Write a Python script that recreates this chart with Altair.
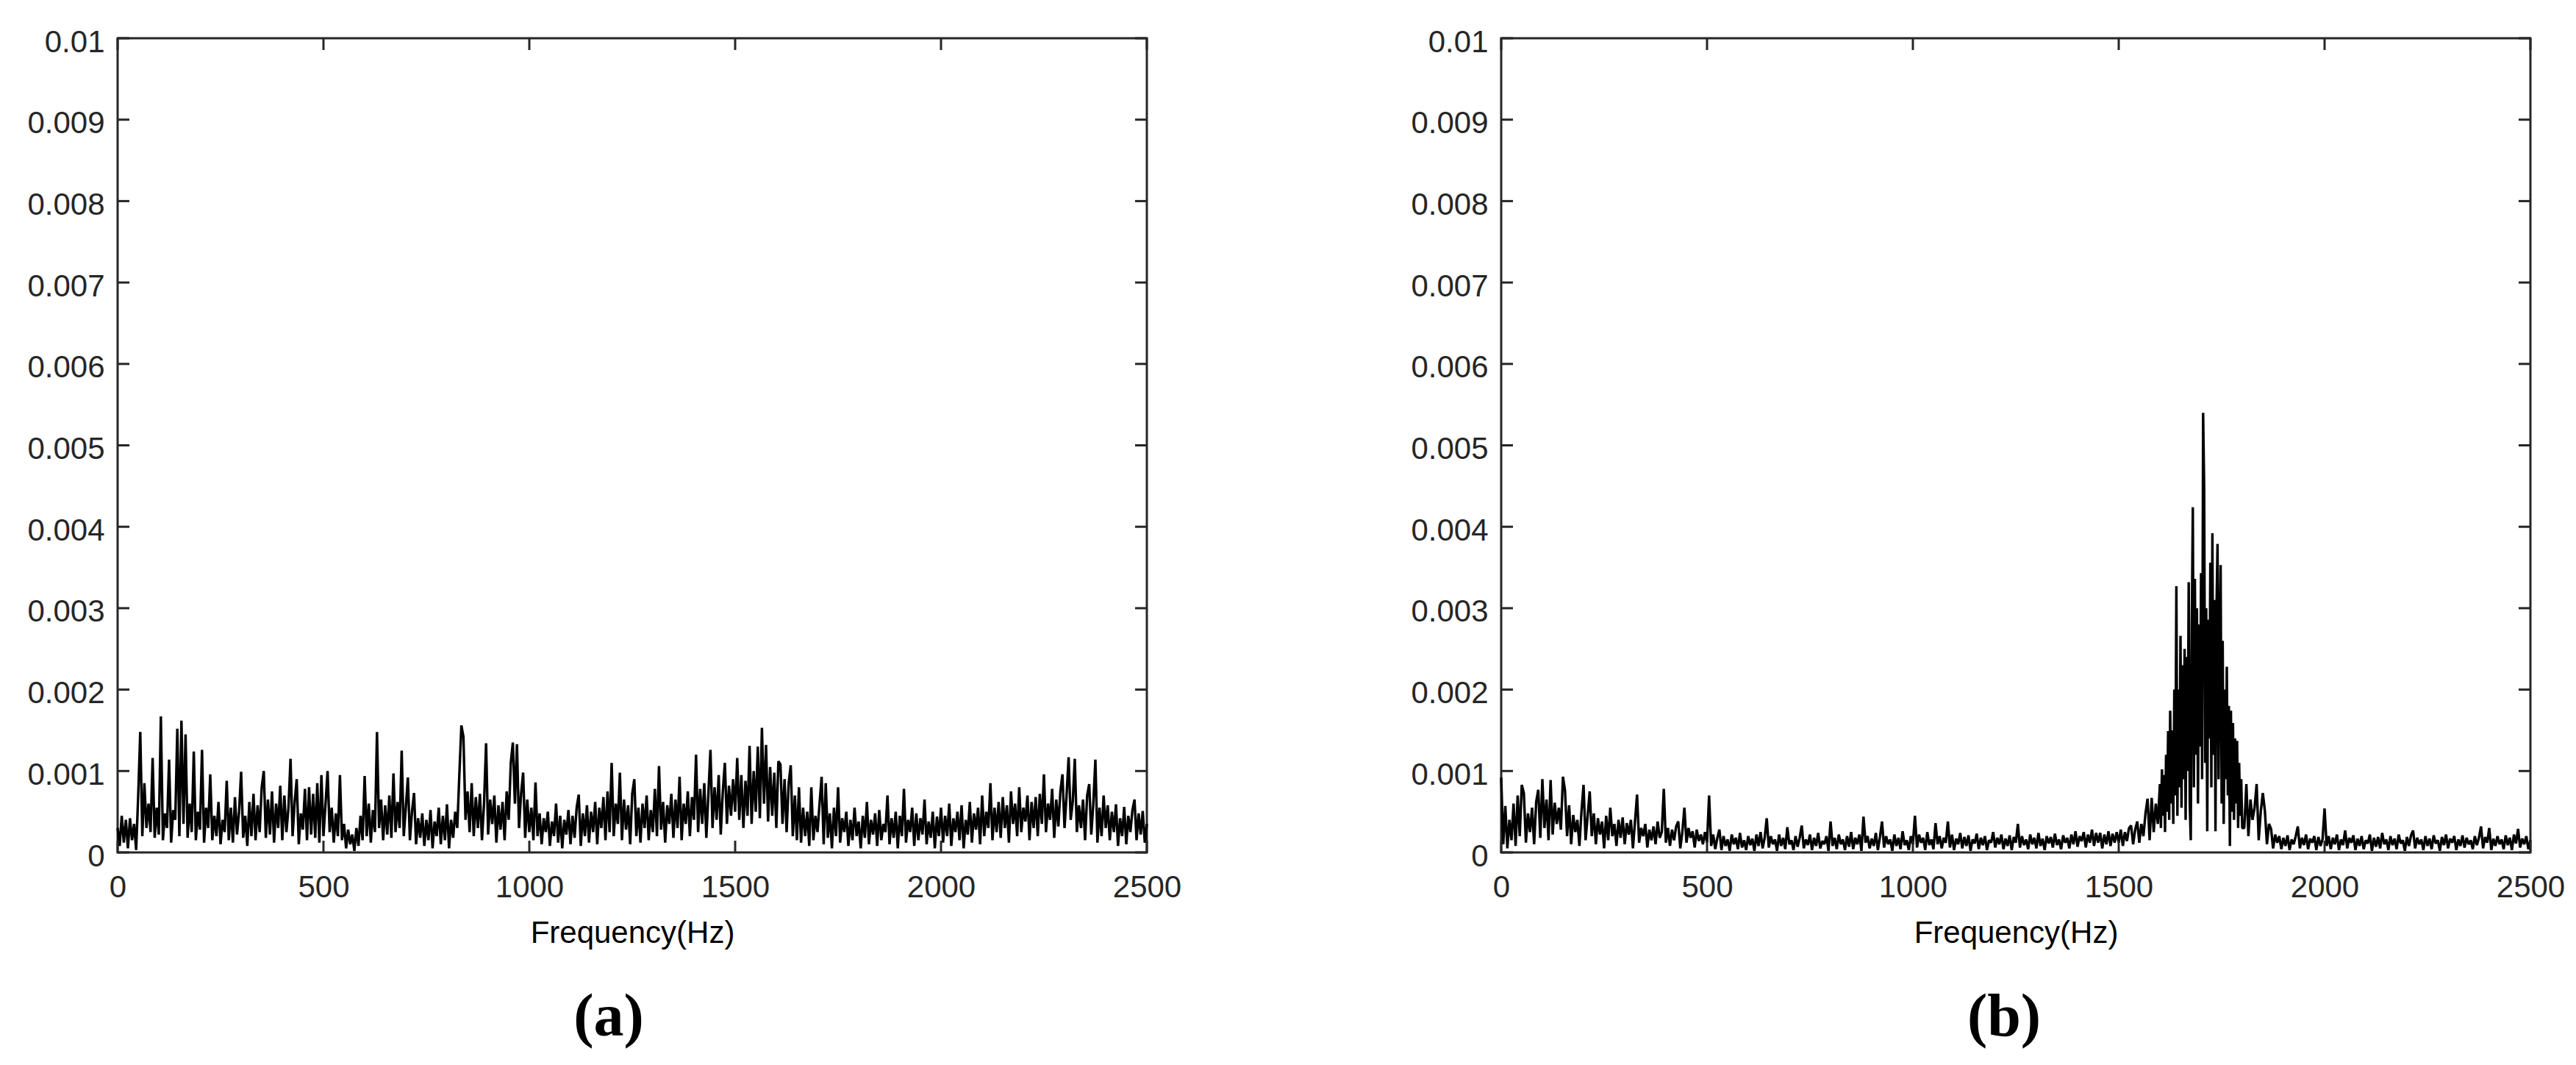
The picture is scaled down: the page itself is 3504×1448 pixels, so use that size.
import altair as alt
import pandas as pd

# Spectrum amplitudes, in units of 1e-5.
# Each segment: values sampled every STEP Hz from its start frequency.
SCALE = 1e-5

a_0000 = [30, 8, 45, 12, 40, 5, 42, 15, 35, 3,
          70, 148, 20, 85, 30, 60, 25, 116, 18, 55,
          22, 167, 15, 48, 30, 114, 12, 52, 40, 152,
          20, 162, 35, 145, 18, 60, 25, 124, 15, 50,
          28, 126, 12, 55, 30, 96, 15, 45, 20, 62,
          10, 40, 25, 88, 15, 55, 12, 68, 22, 50,
          99, 18, 45, 8, 62, 20, 72, 15, 58, 25,
          80, 100, 18, 65, 22, 75, 12, 60, 30, 82,
          15, 70, 25, 55, 115, 20, 62, 90, 10, 48,
          28, 78, 15, 80, 22, 72, 18, 85, 12, 95]
a_0500 = [20, 60, 100, 25, 55, 12, 48, 20, 95, 15,
          35, 5, 28, 10, 22, 2, 30, 8, 45, 15,
          94, 20, 60, 12, 52, 25, 148, 30, 65, 15,
          58, 22, 70, 18, 97, 25, 62, 30, 125, 20,
          55, 92, 15, 50, 73, 10, 42, 18, 48, 8,
          40, 15, 52, 5, 38, 20, 55, 10, 45, 15,
          59, 5, 40, 18, 50, 30, 95, 156, 142, 40,
          75, 25, 85, 20, 68, 30, 72, 15, 60, 134,
          22, 65, 35, 70, 12, 58, 28, 62, 15, 75,
          40, 110, 135, 60, 133, 30, 72, 98, 18, 65]
a_1000 = [25, 55, 15, 86, 20, 48, 10, 42, 25, 50,
          8, 38, 20, 60, 12, 45, 5, 40, 22, 52,
          10, 45, 18, 55, 71, 8, 48, 20, 58, 12,
          50, 25, 62, 10, 55, 30, 68, 15, 75, 25,
          110, 20, 60, 35, 98, 15, 65, 28, 58, 10,
          72, 90, 20, 55, 12, 60, 30, 70, 15, 52,
          25, 78, 20, 106, 28, 62, 12, 58, 35, 72,
          18, 65, 30, 93, 15, 60, 35, 75, 20, 68,
          40, 120, 25, 78, 35, 85, 18, 72, 126, 30,
          80, 40, 95, 22, 75, 110, 35, 82, 45, 90]
a_1500 = [50, 116, 40, 95, 30, 88, 45, 131, 35, 100,
          50, 130, 42, 153, 60, 132, 38, 105, 45, 98,
          30, 112, 108, 35, 90, 25, 85, 107, 20, 70,
          15, 80, 12, 55, 20, 50, 8, 80, 15, 45,
          25, 60, 93, 10, 85, 18, 48, 5, 55, 20,
          80, 12, 42, 25, 50, 8, 40, 15, 55, 20,
          38, 5, 45, 18, 62, 10, 40, 22, 48, 8,
          52, 15, 35, 25, 70, 10, 42, 18, 50, 5,
          45, 20, 78, 12, 40, 25, 55, 8, 48, 15,
          42, 22, 65, 10, 38, 18, 50, 5, 44, 20]
a_2000 = [55, 12, 45, 20, 60, 8, 42, 25, 50, 15,
          58, 5, 40, 22, 62, 12, 48, 28, 55, 10,
          70, 20, 50, 30, 85, 15, 55, 25, 62, 18,
          68, 30, 58, 12, 75, 35, 60, 20, 80, 25,
          55, 38, 70, 15, 62, 30, 68, 20, 72, 35,
          96, 25, 60, 40, 78, 18, 65, 32, 75, 96,
          30, 70, 117, 40, 62, 115, 25, 58, 30, 65,
          15, 70, 84, 22, 60, 114, 12, 55, 20, 70,
          30, 58, 15, 50, 25, 59, 8, 42, 20, 56,
          10, 45, 25, 52, 65, 15, 48, 22, 51, 12,
          35]

b_0000 = [92, 10, 57, 5, 40, 15, 60, 8, 70, 20,
          83, 73, 12, 48, 25, 55, 10, 62, 77, 18,
          90, 30, 65, 15, 89, 22, 61, 35, 55, 28,
          93, 76, 20, 58, 10, 46, 25, 40, 8, 50,
          83, 15, 45, 75, 20, 48, 10, 42, 22, 38,
          5, 45, 15, 55, 20, 35, 8, 40, 18, 43,
          10, 36, 22, 40, 5, 38, 71, 12, 30, 20,
          35, 6, 28, 15, 32, 10, 38, 18, 25, 78,
          12, 30, 8, 28, 15, 32, 38, 5, 25, 55,
          12, 30, 18, 26, 6, 28, 14, 22, 10, 25]
b_0500 = [12, 70, 8, 22, 4, 18, 28, 3, 20, 8,
          16, 2, 22, 10, 18, 4, 24, 6, 15, 3,
          20, 9, 17, 2, 22, 8, 25, 5, 18, 42,
          6, 20, 10, 16, 2, 22, 8, 18, 4, 31,
          10, 15, 3, 20, 7, 18, 33, 5, 16, 9,
          22, 3, 18, 8, 24, 5, 14, 10, 20, 2,
          38, 8, 18, 4, 22, 10, 16, 3, 20, 7,
          25, 4, 18, 10, 22, 2, 44, 12, 20, 5,
          17, 8, 24, 3, 19, 38, 6, 20, 10, 16,
          2, 22, 8, 18, 4, 26, 9, 15, 3, 20]
b_1000 = [10, 45, 6, 22, 12, 18, 3, 25, 9, 16,
          4, 36, 10, 20, 5, 18, 12, 38, 6, 22,
          3, 17, 10, 24, 5, 19, 8, 21, 2, 16,
          11, 23, 4, 18, 9, 20, 3, 15, 12, 25,
          6, 18, 10, 22, 4, 17, 8, 21, 3, 19,
          12, 35, 6, 20, 9, 16, 4, 22, 10, 18,
          5, 24, 8, 17, 3, 20, 11, 19, 6, 23,
          9, 16, 4, 21, 12, 18, 5, 22, 10, 26,
          7, 20, 14, 25, 6, 22, 12, 28, 8, 24,
          12, 24, 5, 22, 10, 26, 8, 23, 12, 25]
b_1500 = [12, 28, 8, 25, 14, 30, 33, 10, 28, 38,
          12, 35, 20, 48, 66, 15, 67, 25, 60, 35]
# the resonance peak, read every 2.5 Hz
b_1600 = [84, 30, 102, 45, 95, 25, 120, 50, 149, 40,
          174, 60, 150, 35, 200, 70, 327, 45, 200, 80,
          266, 55, 230, 90, 250, 40, 240, 100, 332, 60,
          15, 280, 424, 80, 336, 120, 300, 60, 280, 130,
          343, 90, 540, 449, 110, 300, 26, 286, 140, 356,
          80, 392, 120, 310, 26, 300, 379, 90, 250, 353,
          60, 260, 35, 200, 90, 228, 70, 180, 8, 174,
          50, 159, 40, 140, 60, 137, 30, 110, 45, 90,
          30]
b_1805 = [30, 84, 20, 65, 40, 55, 84, 15, 50,
          73, 51, 10, 35, 29, 5, 22, 12, 20, 4,
          18, 8, 21, 3, 16, 10, 20, 32, 5, 18,
          9, 22, 4, 17, 12, 20, 3, 19, 8, 16]
b_2000 = [54, 8, 20, 4, 18, 10, 22, 3, 16, 9,
          27, 5, 18, 12, 21, 3, 17, 8, 20, 4,
          15, 11, 22, 2, 18, 7, 19, 5, 24, 10,
          16, 3, 20, 9, 17, 4, 22, 11, 15, 2,
          19, 8, 21, 27, 5, 18, 10, 16, 3, 20,
          8, 17, 4, 21, 11, 15, 2, 19, 9, 22,
          5, 17, 12, 20, 3, 16, 8, 21, 6, 18,
          10, 15, 4, 20, 9, 18, 32, 5, 19, 12,
          30, 3, 17, 8, 20, 10, 16, 4, 21, 9,
          18, 3, 22, 11, 29, 6, 17, 10, 20, 4,
          15]

# (start Hz, step Hz, values)
segments_a = [(0, 5, a_0000), (500, 5, a_0500), (1000, 5, a_1000),
              (1500, 5, a_1500), (2000, 5, a_2000)]
segments_b = [(0, 5, b_0000), (500, 5, b_0500), (1000, 5, b_1000),
              (1500, 5, b_1500), (1600, 2.5, b_1600), (1805, 5, b_1805),
              (2000, 5, b_2000)]

x_ticks = [0, 500, 1000, 1500, 2000, 2500]
y_ticks = [0, 0.001, 0.002, 0.003, 0.004, 0.005, 0.006, 0.007, 0.008, 0.009, 0.01]
captions = ["(a)", "(b)"]
x_title = "Frequency(Hz)"

W, H = 1400, 1107
AX = "#262626"
TL = 16


def to_frame(segments):
    freq, amp = [], []
    for start, step, vals in segments:
        for i, v in enumerate(vals):
            freq.append(start + i * step)
            amp.append(v * SCALE)
    return pd.DataFrame({"freq": freq, "amp": amp})


def make_panel(segments, caption, cap_dx):
    df = to_frame(segments)
    xs = alt.Scale(domain=[0, 2500], nice=False, zero=False)
    ys = alt.Scale(domain=[0, 0.01], nice=False, zero=False)
    x_axis = alt.Axis(values=x_ticks, format="d", title=x_title, labelFlush=False)
    y_axis = alt.Axis(values=y_ticks, format="~g", title=None, labelFlush=False)
    line = alt.Chart(df).mark_line(color="black", strokeWidth=3.4, strokeJoin="bevel").encode(
        x=alt.X("freq:Q", scale=xs, axis=x_axis),
        y=alt.Y("amp:Q", scale=ys, axis=y_axis),
    )
    xt = pd.DataFrame({"t": x_ticks})
    yt = pd.DataFrame({"t": y_ticks})
    rule = dict(color=AX, strokeWidth=3)
    bottom = alt.Chart(xt).mark_rule(**rule).encode(
        x=alt.X("t:Q", scale=xs, axis=x_axis), y=alt.value(H - TL), y2=alt.value(H))
    top = alt.Chart(xt).mark_rule(**rule).encode(
        x=alt.X("t:Q", scale=xs, axis=x_axis), y=alt.value(0), y2=alt.value(TL))
    left = alt.Chart(yt).mark_rule(**rule).encode(
        y=alt.Y("t:Q", scale=ys, axis=y_axis), x=alt.value(0), x2=alt.value(TL))
    right = alt.Chart(yt).mark_rule(**rule).encode(
        y=alt.Y("t:Q", scale=ys, axis=y_axis), x=alt.value(W - TL), x2=alt.value(W))
    return alt.layer(line, bottom, top, left, right).properties(
        width=W, height=H,
        title=alt.TitleParams(caption, orient="bottom", anchor="middle", frame="group",
                              dx=cap_dx, offset=54, font="Liberation Serif",
                              fontSize=82, fontWeight="bold", color="black"),
    )


pa = make_panel(segments_a, captions[0], -32)
pb = make_panel(segments_b, captions[1], -16)

chart = (
    alt.hconcat(pa, pb, spacing=308)
    .properties(padding={"left": 27, "top": 26, "right": 5, "bottom": 5},
                background="white")
    .configure_view(stroke=AX, strokeWidth=3)
    .configure_axis(
        labelFont="Liberation Sans", labelFontSize=42, labelColor=AX,
        titleFont="Liberation Sans", titleFontSize=42, titleColor="black",
        titleFontWeight="normal", ticks=False, tickSize=0, domain=False, grid=False,
    )
    .configure_axisY(labelPadding=18, labelOffset=5)
    .configure_axisX(labelPadding=27, titlePadding=21)
)

chart.save("out.html", embed_options={"renderer": "svg", "actions": False})
